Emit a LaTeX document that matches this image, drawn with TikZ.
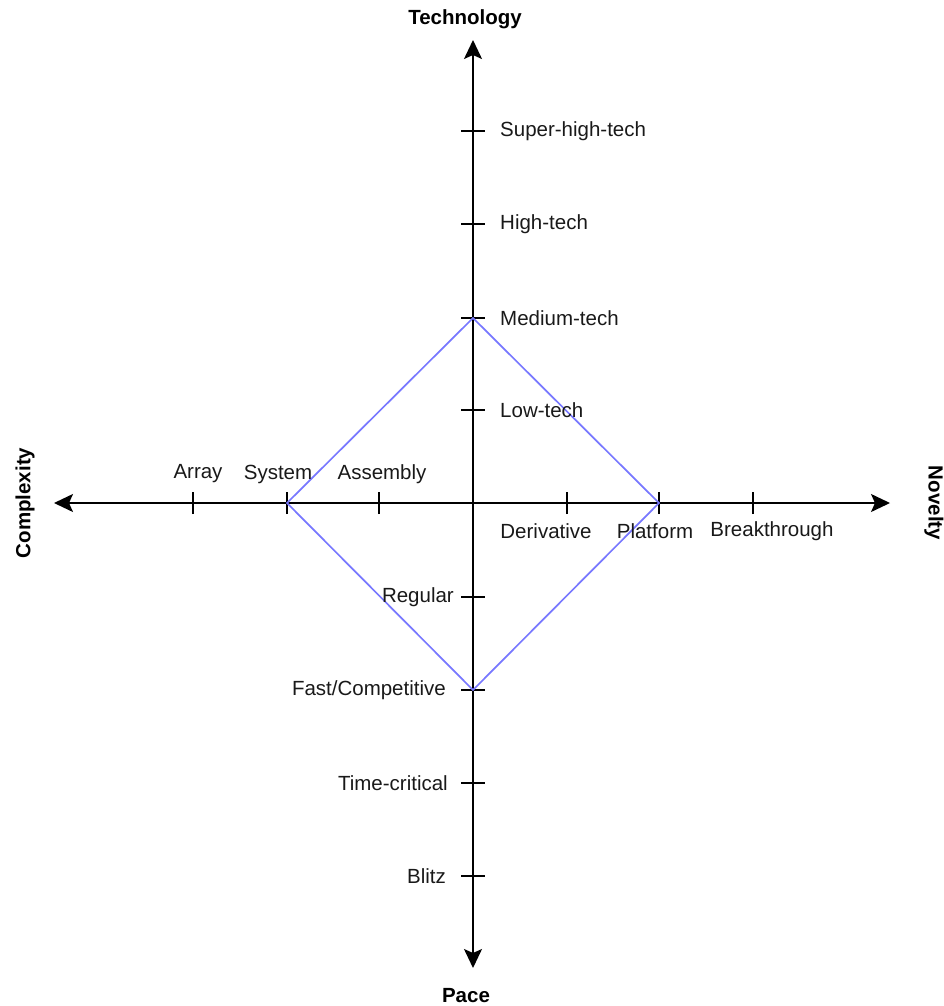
\documentclass[tikz,border=0pt]{standalone}
\usepackage{fontspec}
\setmainfont{Liberation Sans}
\usetikzlibrary{arrows.meta}
\definecolor{diamondblue}{RGB}{120,120,255}
\begin{document}
\begin{tikzpicture}[x=1pt,y=-1pt,
  axisline/.style={line width=1.7pt, {Stealth[length=19pt,width=18pt,inset=4pt]}-{Stealth[length=19pt,width=18pt,inset=4pt]}},
  tickmark/.style={line width=1.5pt},
  lbl/.style={inner sep=0pt, font=\fontsize{20.5}{24}\selectfont, text=black!90},
  ttl/.style={inner sep=0pt, font=\fontsize{20.5}{24}\selectfont\bfseries},
  diamondline/.style={line width=1.7pt, draw=diamondblue}]
\useasboundingbox (0,0) rectangle (943,1006);
% axis ends
\coordinate (O) at (473,503);
\coordinate (vtop) at (473,40);
\coordinate (vbot) at (473,968);
\coordinate (hleft) at (54,503);
\coordinate (hright) at (890,503);
\draw[axisline] (vbot) -- (vtop);
\draw[axisline] (hleft) -- (hright);
% tick coordinates on vertical axis
\coordinate (tSuper) at (473,131);
\coordinate (tHigh) at (473,224);
\coordinate (tMed) at (473,318);
\coordinate (tLow) at (473,410);
\coordinate (tReg) at (473,597);
\coordinate (tFast) at (473,690);
\coordinate (tTime) at (473,783);
\coordinate (tBlitz) at (473,876);
\foreach \c in {tSuper,tHigh,tMed,tLow,tReg,tFast,tTime,tBlitz}
  \draw[tickmark] ([xshift=-12pt]\c) -- ([xshift=12pt]\c);
% tick coordinates on horizontal axis
\coordinate (hArray) at (193,503);
\coordinate (hSys) at (287,503);
\coordinate (hAsm) at (379,503);
\coordinate (hDer) at (567,503);
\coordinate (hPlat) at (659,503);
\coordinate (hBreak) at (753,503);
\foreach \c in {hArray,hSys,hAsm,hDer,hPlat,hBreak}
  \draw[tickmark] ([yshift=-11pt]\c) -- ([yshift=11pt]\c);
% diamond
\draw[diamondline] (tMed) -- (hPlat) -- (tFast) -- (hSys) -- cycle;
% vertical labels
\node[lbl, anchor=west] (lSuper) at (500,131) {Super-high-tech};
\node[lbl, anchor=west] (lHigh) at (500,224) {High-tech};
\node[lbl, anchor=west] (lMed) at (500,318) {Medium-tech};
\node[lbl, anchor=west] (lLow) at (500,410) {Low-tech};
\node[lbl, anchor=east] (lReg) at (454,597) {Regular};
\node[lbl, anchor=east] (lFast) at (446,690) {Fast/Competitive};
\node[lbl, anchor=east] (lTime) at (448,783) {Time-critical};
\node[lbl, anchor=east] (lBlitz) at (446,876) {Blitz};
% horizontal labels
\node[lbl] (lArray) at (198,474) {Array};
\node[lbl] (lSys) at (278,474) {System};
\node[lbl] (lAsm) at (382,474) {Assembly};
\node[lbl] (lDer) at (546,531) {Derivative};
\node[lbl] (lPlat) at (655,531) {Platform};
\node[lbl] (lBreak) at (772,531) {Breakthrough};
% axis titles
\node[ttl] (tech) at (465,19) {Technology};
\node[ttl] (pace) at (466,996) {Pace};
\node[ttl, rotate=90] (cplx) at (25,503) {Complexity};
\node[ttl, rotate=-90] (nov) at (934,503) {Novelty};
\end{tikzpicture}
\end{document}
